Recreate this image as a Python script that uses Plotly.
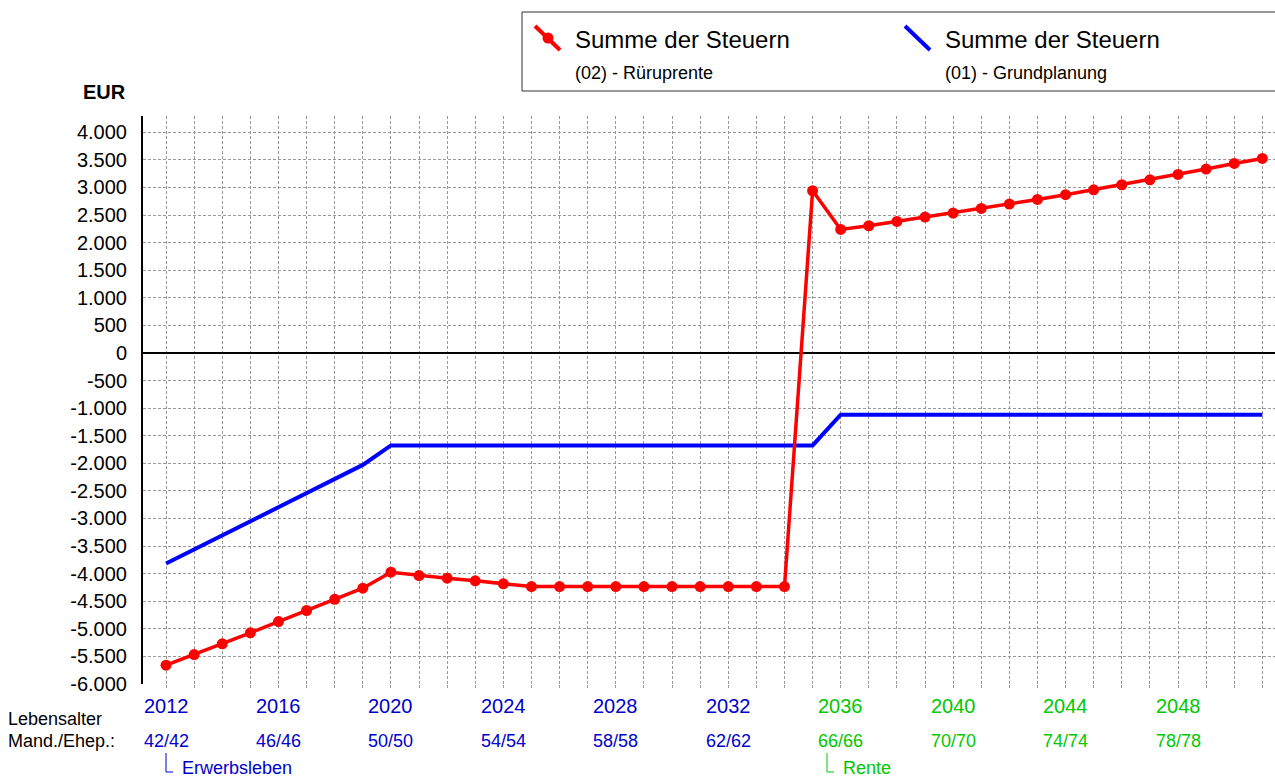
import plotly.graph_objects as go

years = list(range(2012, 2052))
steuern_rueruprente = [
    -5659, -5466, -5272, -5072, -4868, -4668, -4464, -4264, -3974, -4034,
    -4083, -4130, -4185, -4234, -4234, -4234, -4234, -4234, -4234, -4234,
    -4234, -4234, -4234, 2940, 2239, 2306, 2384, 2464, 2536, 2620,
    2699, 2783, 2868, 2958, 3049, 3139, 3236, 3333, 3435, 3525,
]
steuern_grundplanung = [
    -3817, -3562, -3306, -3051, -2795, -2540, -2285, -2029, -1675, -1675,
    -1675, -1675, -1675, -1675, -1675, -1675, -1675, -1675, -1675, -1675,
    -1675, -1675, -1675, -1675, -1118, -1118, -1118, -1118, -1118, -1118,
    -1118, -1118, -1118, -1118, -1118, -1118, -1118, -1118, -1118, -1118,
]
label_years = [2012, 2016, 2020, 2024, 2028, 2032, 2036, 2040, 2044, 2048]
label_ages = ["42/42", "46/46", "50/50", "54/54", "58/58", "62/62",
              "66/66", "70/70", "74/74", "78/78"]
label_phase = ["E", "E", "E", "E", "E", "E", "R", "R", "R", "R"]
ytick_vals = list(range(-6000, 4001, 500))
ytick_text = ["-6.000", "-5.500", "-5.000", "-4.500", "-4.000", "-3.500", "-3.000",
              "-2.500", "-2.000", "-1.500", "-1.000", "-500", "0", "500", "1.000",
              "1.500", "2.000", "2.500", "3.000", "3.500", "4.000"]
legend_names = ["Summe der Steuern", "Summe der Steuern"]
legend_subs = ["(02) - Rüruprente", "(01) - Grundplanung"]

FONT = "Liberation Sans, Arial, sans-serif"
RED = "#FF0000"
BLUE = "#0000FF"
TXT_BLUE = "#0000CC"
TXT_GREEN = "#00C800"

fig = go.Figure()
fig.add_trace(go.Scatter(x=years, y=steuern_grundplanung, mode="lines",
                         line=dict(color=BLUE, width=4), showlegend=False))
fig.add_trace(go.Scatter(x=years, y=steuern_rueruprente, mode="lines+markers",
                         line=dict(color=RED, width=3.5),
                         marker=dict(color=RED, size=11), showlegend=False))

# body margin is removed by post_script, so figure sits at page origin
O = 0
W, H = 1275 - O, 779 - O
PX0, PX1, PY0, PY1 = 143, 1275, 116, 684   # plot area in page pixels
L, R, T, B = PX0 - O, 0, PY0 - O, H - (PY1 - O)
PW, PH = PX1 - PX0, PY1 - PY0

def px(xp):
    return (xp - PX0) / PW

def py(yp):
    return (PY1 - yp) / PH

annotations = []
shapes = []

# legend box
shapes.append(dict(type="rect", xref="paper", yref="paper",
                   x0=px(522), x1=px(1277), y0=py(91), y1=py(12),
                   line=dict(color="#333333", width=1), fillcolor="white", layer="above"))
for i, (name, sub, col) in enumerate(zip(legend_names, legend_subs, [RED, BLUE])):
    off = 370 * i
    shapes.append(dict(type="line", xref="paper", yref="paper",
                       x0=px(535 + off), y0=py(26), x1=px(560 + off), y1=py(50),
                       line=dict(color=col, width=4), layer="above"))
    if i == 0:
        shapes.append(dict(type="circle", xref="paper", yref="paper",
                           xsizemode="pixel", ysizemode="pixel",
                           xanchor=px(548), yanchor=py(38),
                           x0=-5.5, x1=5.5, y0=-5.5, y1=5.5,
                           fillcolor=col, line=dict(color=col, width=0), layer="above"))
    annotations.append(dict(xref="paper", yref="paper", x=px(573 + off), y=py(40),
                            xanchor="left", yanchor="middle", showarrow=False,
                            text=name, font=dict(family=FONT, size=24, color="black")))
    annotations.append(dict(xref="paper", yref="paper", x=px(573 + off), y=py(73),
                            xanchor="left", yanchor="middle", showarrow=False,
                            text=sub, font=dict(family=FONT, size=18, color="black")))

# EUR
annotations.append(dict(xref="paper", yref="paper", x=px(128), y=py(92),
                        xanchor="right", yanchor="middle", showarrow=False,
                        text="<b>EUR</b>", font=dict(family=FONT, size=20, color="black")))

# bottom labels
for yr, age, ph in zip(label_years, label_ages, label_phase):
    col = TXT_BLUE if ph == "E" else TXT_GREEN
    annotations.append(dict(xref="x", yref="paper", x=yr, y=py(706),
                            xanchor="center", yanchor="middle", showarrow=False,
                            text=str(yr), font=dict(family=FONT, size=20, color=col)))
    annotations.append(dict(xref="x", yref="paper", x=yr, y=py(741),
                            xanchor="center", yanchor="middle", showarrow=False,
                            text=age, font=dict(family=FONT, size=18, color=col)))

annotations.append(dict(xref="paper", yref="paper", x=px(6), y=py(719),
                        xanchor="left", yanchor="middle", showarrow=False,
                        text="Lebensalter", font=dict(family=FONT, size=18, color="black")))
annotations.append(dict(xref="paper", yref="paper", x=px(6), y=py(741),
                        xanchor="left", yanchor="middle", showarrow=False,
                        text="Mand./Ehep.:", font=dict(family=FONT, size=18, color="black")))

for xpos, txt, col in [(166, "Erwerbsleben", TXT_BLUE), (827, "Rente", TXT_GREEN)]:
    shapes.append(dict(type="path", xref="paper", yref="paper",
                       path=f"M {px(xpos)} {py(753)} L {px(xpos)} {py(772)} L {px(xpos + 7)} {py(772)}",
                       line=dict(color=col, width=1)))
    annotations.append(dict(xref="paper", yref="paper", x=px(xpos + 14), y=py(768),
                            xanchor="left", yanchor="middle", showarrow=False,
                            text=txt, font=dict(family=FONT, size=18, color=col)))

fig.update_layout(
    width=W, height=H,
    margin=dict(l=L, r=R, t=T, b=B, pad=0),
    paper_bgcolor="white", plot_bgcolor="white",
    font=dict(family=FONT, color="black"),
    annotations=annotations, shapes=shapes,
    hovermode=False,
    xaxis=dict(range=[2011.18, 2051.45], tick0=2012, dtick=1,
               showticklabels=False, ticks="outside", ticklen=3, tickcolor="#999999",
               showgrid=True, gridcolor="#999999", gridwidth=1, griddash="3px,2px",
               zeroline=False, showline=False, fixedrange=True),
    yaxis=dict(range=[-6000, 4295], tickvals=ytick_vals, ticktext=ytick_text,
               tickfont=dict(family=FONT, size=20, color="black"),
               ticks="outside", ticklen=10, tickcolor="rgba(0,0,0,0)",
               showgrid=True, gridcolor="#999999", gridwidth=1, griddash="3px,2px",
               zeroline=True, zerolinecolor="black", zerolinewidth=2,
               showline=True, linecolor="black", linewidth=2, fixedrange=True),
)

fig.write_html("out.html",
               config={"displayModeBar": False, "staticPlot": True},
               post_script="document.body.style.margin='0';document.body.style.overflow='hidden';")
